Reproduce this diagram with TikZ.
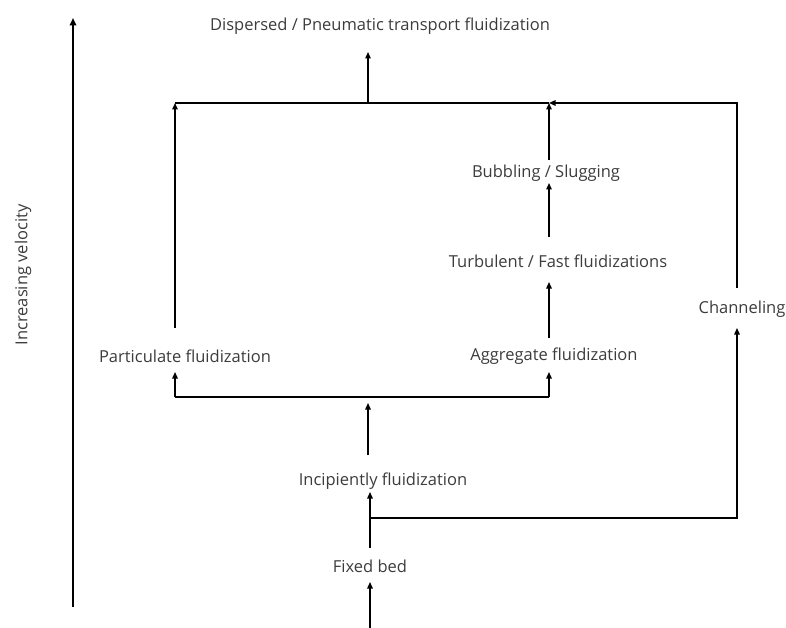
\documentclass[tikz,border=0pt]{standalone}
\usepackage{fontspec}
\setmainfont{Open Sans}
\usepackage{xcolor}
\usepackage{tikz}
\usetikzlibrary{arrows.meta,positioning,calc}
\definecolor{labelgray}{RGB}{60,60,60}

\begin{document}
\begin{tikzpicture}[x=1pt,y=-1pt,
    stage/.style={text=labelgray, font=\fontsize{16.5}{19}\selectfont, inner sep=1pt},
    flow/.style={-{Triangle[width=5.5pt,length=6.5pt]}, line width=1.4pt},
    link/.style={line width=1.4pt}]
    \useasboundingbox (0,0) rectangle (786,628);

    % Velocity axis
    \coordinate (axlow) at (73,607);
    \coordinate (axhigh) at (73,18);
    \draw[-{Triangle[width=6.5pt,length=7.5pt]}, line width=2.4pt] (axlow) -- (axhigh);
    \node[stage, rotate=90] (vel) at (23,275) {Increasing velocity};

    % Regimes
    \node[stage] (disp) at (380,26) {Dispersed / Pneumatic transport fluidization};
    \node[stage] (bub) at (546,173) {Bubbling / Slugging};
    \node[stage] (turb) at (558,261) {Turbulent / Fast fluidizations};
    \node[stage] (chan) at (742,309) {Channeling};
    \node[stage] (part) at (185,356) {Particulate fluidization};
    \node[stage] (aggr) at (554,356) {Aggregate fluidization};
    \node[stage] (incip) at (383,481) {Incipiently fluidization};
    \node[stage] (fixed) at (370,566) {Fixed bed};

    % Junctions
    \coordinate (inlet) at (370,628);
    \coordinate (fixin) at (370,582);
    \coordinate (fixout) at (370,548);
    \coordinate (incin) at (370,492);
    \coordinate (branch) at (370,518);
    \coordinate (chbend) at (737,518);
    \coordinate (chin) at (737,328);
    \coordinate (chout) at (737,288);
    \coordinate (chtop) at (737,103);
    \coordinate (incout) at (368,455);
    \coordinate (split) at (368,403);
    \coordinate (splitl) at (175,397);
    \coordinate (splitr) at (549,397);
    \coordinate (partin) at (175,372);
    \coordinate (aggrin) at (549,372);
    \coordinate (partout) at (175,328);
    \coordinate (topl) at (175,103);
    \coordinate (topr) at (549,103);
    \coordinate (topmid) at (368,103);
    \coordinate (dispin) at (368,52);
    \coordinate (aggrout) at (549,338);
    \coordinate (turbin) at (549,282);
    \coordinate (turbout) at (549,237);
    \coordinate (bubin) at (549,183);
    \coordinate (bubout) at (549,160);

    % Lower path
    \draw[flow] (inlet) -- (fixin);
    \draw[flow] (fixout) -- (incin);
    \draw[flow] (branch) -- (chbend) -- (chin);
    \draw[flow] (incout) -- (split);
    \draw[link] (splitl) -- (splitr);
    \draw[flow] (splitl) -- (partin);
    \draw[flow] (splitr) -- (aggrin);

    % Upper path
    \draw[flow] (partout) -- (topl);
    \draw[flow] (aggrout) -- (turbin);
    \draw[flow] (turbout) -- (bubin);
    \draw[flow] (bubout) -- (topr);
    \draw[flow] (chout) -- (chtop) -- (topr);
    \draw[link] (topl) -- (topr);
    \draw[flow] (topmid) -- (dispin);

\end{tikzpicture}
\end{document}
